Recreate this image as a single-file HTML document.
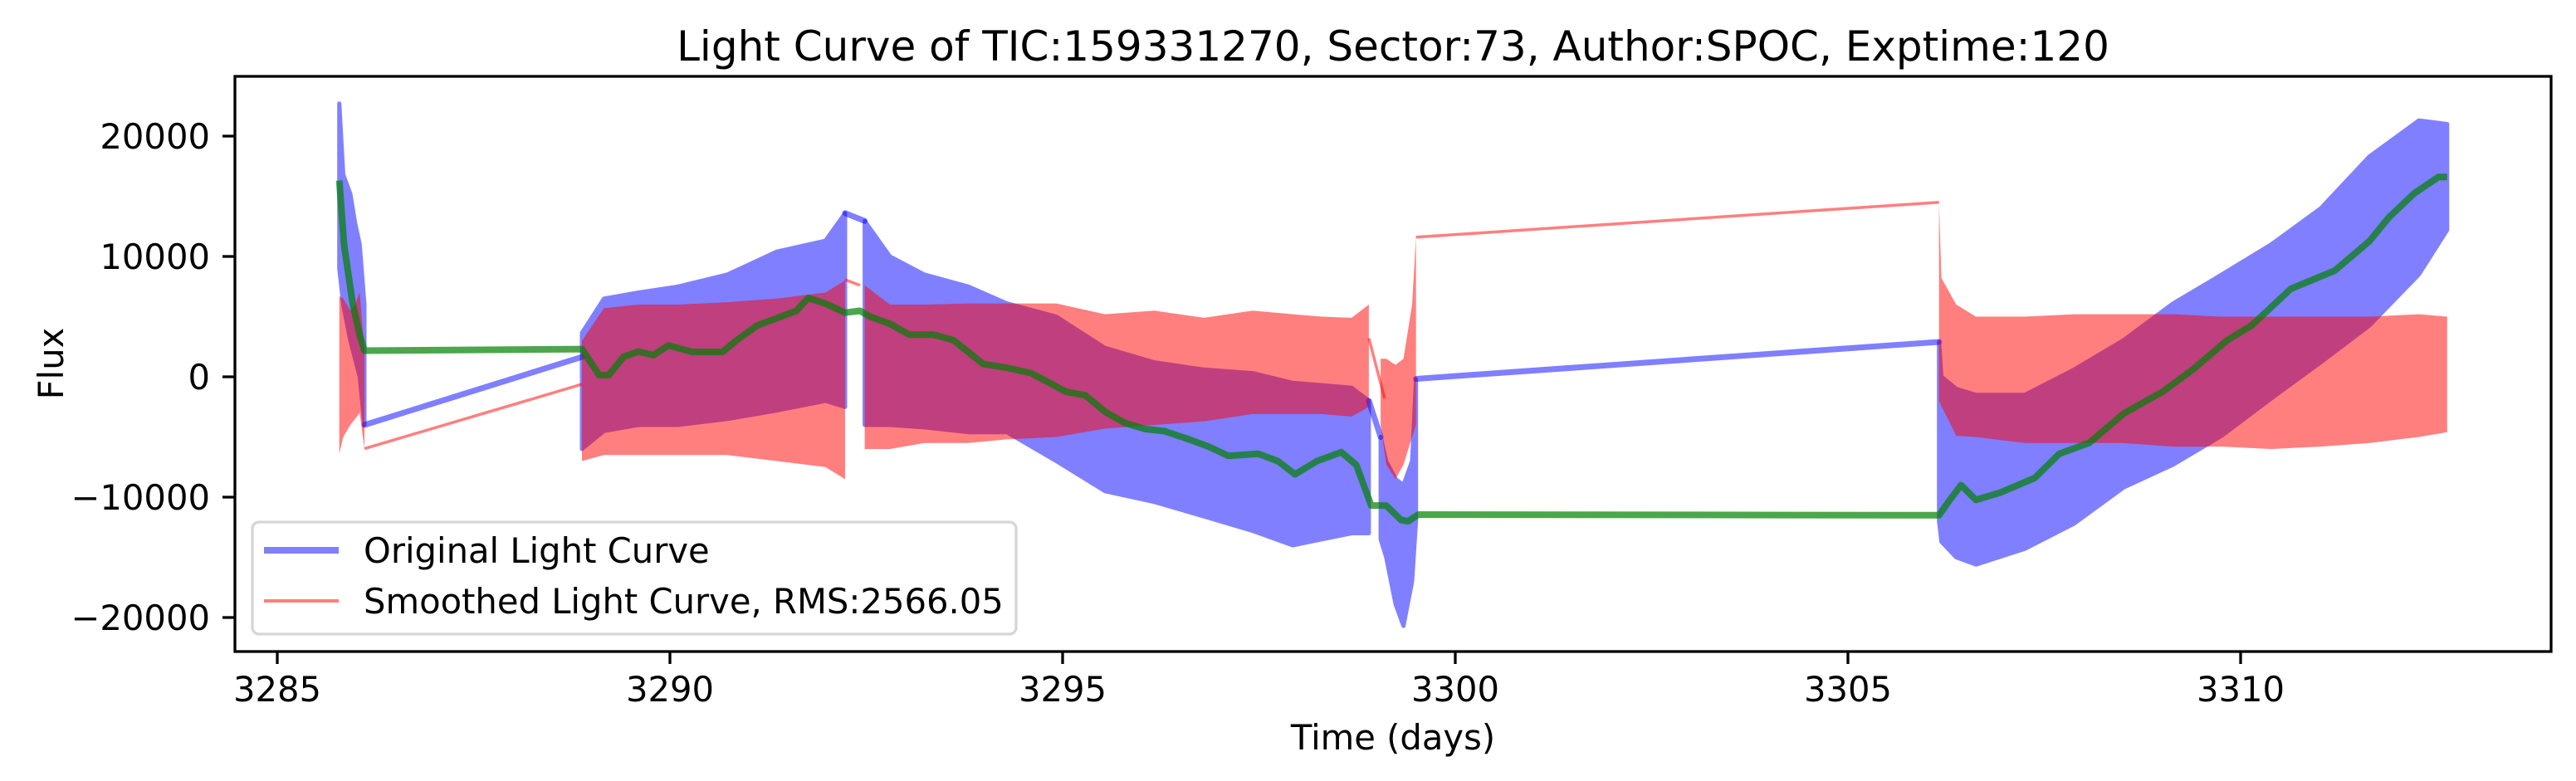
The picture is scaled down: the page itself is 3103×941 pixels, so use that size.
<!DOCTYPE html>
<html><head><meta charset="utf-8"><style>
html,body{margin:0;padding:0;background:#fff;}
svg{display:block;font-family:"DejaVu Sans","Liberation Sans",sans-serif;}
</style></head><body>
<svg id="chart" width="3103" height="941" viewBox="0 0 3103 941" xmlns="http://www.w3.org/2000/svg">
<rect x="0" y="0" width="3103" height="941" fill="#fff"/>
<g id="plot"></g>
<rect x="283" y="92" width="2790" height="693" fill="none" stroke="#000" stroke-width="3.3"/>
<g id="xticks"></g>
<g id="yticks"></g>
<text x="1678" y="73" font-size="50" text-anchor="middle">Light Curve of TIC:159331270, Sector:73, Author:SPOC, Exptime:120</text>
<text x="1678" y="903" font-size="41.7" text-anchor="middle">Time (days)</text>
<text transform="translate(76,438) rotate(-90)" font-size="41.7" text-anchor="middle">Flux</text>
<g>
<rect x="304" y="629" width="920" height="135" rx="8" fill="#fff" fill-opacity="0.8" stroke="#d6d6d6" stroke-width="3.3"/>
<line x1="318" y1="663" x2="408" y2="663" stroke="#0000ff" stroke-opacity="0.5" stroke-width="8"/>
<text x="438" y="678" font-size="41.7">Original Light Curve</text>
<line x1="318" y1="724" x2="408" y2="724" stroke="#ff0000" stroke-opacity="0.5" stroke-width="4"/>
<text x="438" y="739" font-size="41.7">Smoothed Light Curve, RMS:2566.05</text>
</g>
</svg>
<script>
// ---- data ----
const xTicks = [3285, 3290, 3295, 3300, 3305, 3310];
const yTicks = [-20000, -10000, 0, 10000, 20000];
const yTickLabels = ["\u221220000", "\u221210000", "0", "10000", "20000"];

const seg0T = [3285.79, 3285.84, 3285.93, 3285.99, 3286.05, 3286.11];
const seg0BlueHi = [22700, 16800, 15200, 12800, 11000, 6000];
const seg0BlueLo = [9000, 6000, 3000, 1500, 0, -4000];
const seg0RedHi = [6700, 6500, 5500, 6000, 7000, 2000];
const seg0RedLo = [-6400, -5000, -4000, -3500, -3000, -5970];

const seg1T = [3288.88, 3289.16, 3289.6, 3290.10, 3290.73, 3291.36, 3291.98, 3292.23];
const seg1BlueHi = [3650, 6500, 7000, 7500, 8500, 10400, 11300, 13600];
const seg1BlueLo = [-6000, -4500, -4000, -4000, -3500, -2800, -2000, -2500];
const seg1RedHi = [3000, 5700, 6000, 6000, 6200, 6500, 7000, 8000];
const seg1RedLo = [-7000, -6500, -6500, -6500, -6500, -7000, -7500, -8500];

const seg2T = [3292.48, 3292.8, 3293.24, 3293.8, 3294.29, 3294.92, 3295.54, 3296.17, 3296.80, 3297.42, 3297.93, 3298.30, 3298.68, 3298.90];
const seg2BlueHi = [12950, 10000, 8500, 7500, 6100, 5000, 2400, 1200, 600, 300, -500, -700, -900, -2000];
const seg2BlueLo = [-4000, -4000, -4200, -4600, -4600, -7000, -9500, -10400, -11600, -12800, -14000, -13500, -13000, -13000];
const seg2RedHi = [7600, 6000, 6000, 6100, 6100, 6100, 5200, 5500, 4900, 5500, 5200, 5000, 4900, 6000];
const seg2RedLo = [-6000, -6000, -5500, -5500, -5200, -5000, -4300, -4000, -3700, -3100, -3100, -3100, -3300, -2500];

const seg3T = [3299.05, 3299.12, 3299.24, 3299.34, 3299.45, 3299.50];
const seg3BlueHi = [-5000, -7000, -8500, -9000, -7000, -200];
const seg3BlueLo = [-13500, -15000, -18900, -20700, -17000, -12000];
const seg3RedHi = [1500, 1500, 1000, 1500, 6000, 11600];
const seg3RedLo = [-4000, -7300, -8500, -7300, -5000, -4000];

const seg4T = [3306.16, 3306.19, 3306.38, 3306.63, 3307.25, 3307.88, 3308.51, 3309.14, 3309.76, 3310.39, 3311.02, 3311.64, 3312.27, 3312.63];
const seg4BlueHi = [2900, 0, -1000, -1500, -1500, 600, 3040, 6100, 8500, 11000, 14000, 18300, 21300, 21000];
const seg4BlueLo = [-12000, -13700, -15000, -15600, -14300, -12200, -9200, -7300, -4900, -1800, 1200, 4260, 8500, 12200];
const seg4RedHi = [14500, 8200, 6000, 5000, 5000, 5200, 5200, 5200, 5000, 5000, 5000, 5000, 5200, 5000];
const seg4RedLo = [-2000, -2450, -4900, -5000, -5500, -5500, -5500, -5800, -5800, -6000, -5800, -5500, -5000, -4600];

const blueLinkT = [[3286.11, 3288.88], [3292.23, 3292.48], [3298.90, 3299.05], [3299.50, 3306.16]];
const blueLinkV = [[-4000, 1650], [13600, 12950], [-2000, -5000], [-170, 2900]];
const redLinkT = [[3286.11, 3288.88], [3292.23, 3292.42], [3298.90, 3299.10], [3299.50, 3306.16]];
const redLinkV = [[-5970, -620], [8070, 7600], [3200, -1800], [11600, 14500]];

const greenT = [3285.79,3285.85,3285.96,3286.05,3286.11,3288.88,3289.10,3289.22,3289.41,3289.60,3289.79,3289.98,3290.29,3290.67,3290.85,3291.11,3291.36,3291.61,3291.76,3291.98,3292.23,3292.42,3292.55,3292.80,3293.05,3293.36,3293.61,3293.99,3294.29,3294.60,3295.04,3295.29,3295.54,3295.79,3296.05,3296.30,3296.61,3296.86,3297.11,3297.49,3297.74,3297.96,3298.24,3298.55,3298.74,3298.93,3299.12,3299.31,3299.40,3299.53,3306.16,3306.28,3306.44,3306.63,3306.94,3307.38,3307.69,3308.07,3308.51,3309.01,3309.39,3309.83,3310.14,3310.64,3311.20,3311.64,3311.89,3312.21,3312.52,3312.63];
const greenV = [16300,11000,6100,3500,2170,2300,140,140,1670,2100,1800,2600,2070,2070,3040,4260,4870,5480,6550,6090,5330,5480,5000,4410,3500,3500,3040,1060,750,300,-1230,-1540,-2900,-3820,-4340,-4520,-5200,-5800,-6570,-6400,-7000,-8100,-7000,-6260,-7330,-10700,-10700,-11900,-12000,-11450,-11500,-10380,-9000,-10230,-9620,-8400,-6400,-5500,-3060,-1230,600,3040,4260,7310,8830,11270,13260,15240,16610,16610];

const NS = "http://www.w3.org/2000/svg";
function xS(t){ return 334 + (t - 3285) * 94.6; }
function yS(v){ return 454 - v * 0.0145; }
function mk(tag, attrs, parent){
  const e = document.createElementNS(NS, tag);
  for (const k in attrs) e.setAttribute(k, attrs[k]);
  parent.appendChild(e);
  return e;
}
const plot = document.getElementById('plot');

const segs = [
  [seg0T, seg0BlueHi, seg0BlueLo, seg0RedHi, seg0RedLo],
  [seg1T, seg1BlueHi, seg1BlueLo, seg1RedHi, seg1RedLo],
  [seg2T, seg2BlueHi, seg2BlueLo, seg2RedHi, seg2RedLo],
  [seg3T, seg3BlueHi, seg3BlueLo, seg3RedHi, seg3RedLo],
  [seg4T, seg4BlueHi, seg4BlueLo, seg4RedHi, seg4RedLo]
];
function bandPts(t, hi, lo){
  const a = [];
  for (let i = 0; i < t.length; i++) a.push(xS(t[i]).toFixed(1) + ',' + yS(hi[i]).toFixed(1));
  for (let i = t.length - 1; i >= 0; i--) a.push(xS(t[i]).toFixed(1) + ',' + yS(lo[i]).toFixed(1));
  return a.join(' ');
}
const gBlue = mk('g', {}, plot);


segs.forEach(function(s, i){
  const p = mk('polygon', {points: bandPts(s[0], s[1], s[2]), fill: '#0000ff', 'fill-opacity': 0.5, stroke: '#8080ff', 'stroke-width': 5, 'stroke-linejoin': 'round'}, gBlue);
  
  
});
blueLinkT.forEach(function(t, i){
  const l = mk('line', {x1: xS(t[0]), y1: yS(blueLinkV[i][0]), x2: xS(t[1]), y2: yS(blueLinkV[i][1]), stroke: '#0000ff', 'stroke-opacity': 0.5, 'stroke-width': 7, 'stroke-linecap': 'round'}, gBlue);
  
  
});
const gRed = mk('g', {}, plot);


segs.forEach(function(s, i){
  const p = mk('polygon', {points: bandPts(s[0], s[3], s[4]), fill: '#ff0000', 'fill-opacity': 0.5, stroke: 'none'}, gRed);
  
  
});
redLinkT.forEach(function(t, i){
  const l = mk('line', {x1: xS(t[0]), y1: yS(redLinkV[i][0]), x2: xS(t[1]), y2: yS(redLinkV[i][1]), stroke: '#ff0000', 'stroke-opacity': 0.5, 'stroke-width': 3.5}, gRed);
  
  
});
const gp = greenT.map(function(t, i){ return xS(t).toFixed(1) + ',' + yS(greenV[i]).toFixed(1); }).join(' ');
const green = mk('polyline', {points: gp, fill: 'none', stroke: '#008000', 'stroke-opacity': 0.7, 'stroke-width': 8, 'stroke-linejoin': 'round'}, plot);



const gx = document.getElementById('xticks');
xTicks.forEach(function(t){
  const x = xS(t);
  const tk = mk('line', {x1: x, y1: 785, x2: x, y2: 800, stroke: '#000', 'stroke-width': 3.3}, gx);
  
  
  const lb = mk('text', {x: x, y: 845, 'font-size': 41.7, 'text-anchor': 'middle'}, gx);
  lb.textContent = String(t);
  
  
});
const gy = document.getElementById('yticks');
yTicks.forEach(function(v, i){
  const y = yS(v);
  const tk = mk('line', {x1: 268, y1: y, x2: 283, y2: y, stroke: '#000', 'stroke-width': 3.3}, gy);
  
  
  const lb = mk('text', {x: 253, y: y + 15, 'font-size': 41.7, 'text-anchor': 'end'}, gy);
  lb.textContent = yTickLabels[i];
  
  
});
</script>
</body></html>
